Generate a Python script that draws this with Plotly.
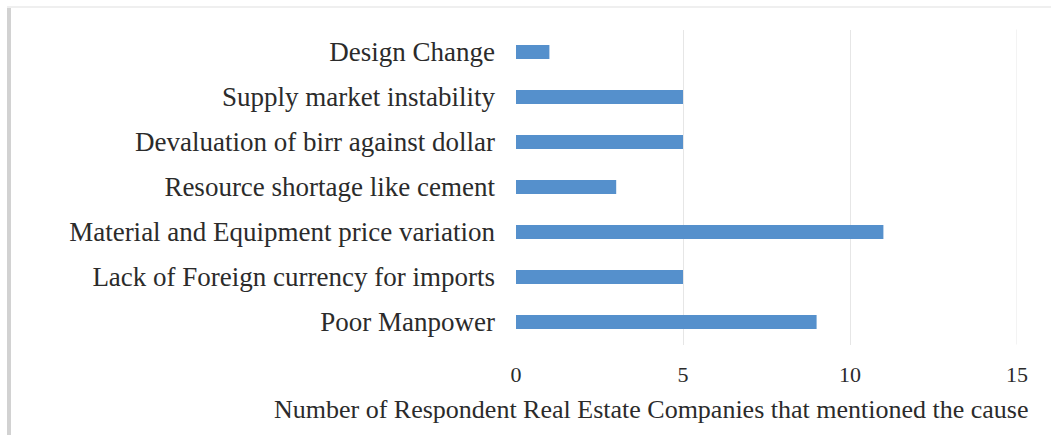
import plotly.graph_objects as go

# Causes of cost overrun, listed bottom-to-top as drawn
causes = [
    "Poor Manpower",
    "Lack of Foreign currency for imports",
    "Material and Equipment price variation",
    "Resource shortage like cement",
    "Devaluation of birr against dollar",
    "Supply market instability",
    "Design Change",
]
respondents = [9, 5, 11, 3, 5, 5, 1]

x_ticks = [0, 5, 10, 15]
x_title = "Number of Respondent Real Estate Companies that mentioned the cause"

W, H = 1051, 435
FONT = "Liberation Serif, Times New Roman, serif"
TEXT = "#2b2b2b"
GRID = "#e6e6e6"

PLOT_TOP, PLOT_BOTTOM = 29.5, 344.5

fig = go.Figure(
    go.Bar(
        x=respondents,
        y=causes,
        orientation="h",
        width=0.31,
        marker=dict(color="#5590cc", line=dict(width=0)),
    )
)

fig.update_layout(
    width=W,
    height=H,
    margin=dict(l=0, r=0, t=0, b=0, autoexpand=False),
    paper_bgcolor="white",
    plot_bgcolor="white",
    showlegend=False,
    font=dict(family=FONT, size=27, color=TEXT),
    xaxis=dict(
        domain=[516 / W, 1017 / W],
        range=[0, 15],
        tickvals=x_ticks,
        ticktext=[str(v) for v in x_ticks],
        showgrid=True,
        gridcolor=GRID,
        gridwidth=1,
        zeroline=False,
        showline=False,
        ticks="",
        automargin=False,
        ticklabelstandoff=14,
        tickfont=dict(family=FONT, size=22, color=TEXT),
    ),
    yaxis=dict(
        domain=[1 - PLOT_BOTTOM / H, 1 - PLOT_TOP / H],
        range=[-0.5, 6.5],
        showgrid=False,
        zeroline=False,
        showline=False,
        ticks="",
        automargin=False,
        ticklabelstandoff=20,
        tickfont=dict(family=FONT, size=27, color=TEXT),
    ),
    annotations=[
        dict(
            text=x_title,
            xref="paper",
            yref="paper",
            x=272 / W,
            y=1 - 409 / H,
            xanchor="left",
            yanchor="middle",
            showarrow=False,
            font=dict(family=FONT, size=26, color=TEXT),
        )
    ],
    shapes=[
        # outermost gridline sits on the plot edge, draw it explicitly
        dict(type="line", xref="x", yref="paper",
             x0=x_ticks[-1], x1=x_ticks[-1],
             y0=1 - PLOT_BOTTOM / H, y1=1 - PLOT_TOP / H,
             line=dict(color=GRID, width=1)),
        # frame edges around the chart
        dict(type="line", xref="paper", yref="paper",
             x0=9 / W, x1=9 / W, y0=0, y1=1 - 7 / H,
             line=dict(color="#d2d2d2", width=4)),
        dict(type="line", xref="paper", yref="paper",
             x0=7 / W, x1=1, y0=1 - 7 / H, y1=1 - 7 / H,
             line=dict(color="#efefef", width=2)),
    ],
)

fig.write_html("out.html")
